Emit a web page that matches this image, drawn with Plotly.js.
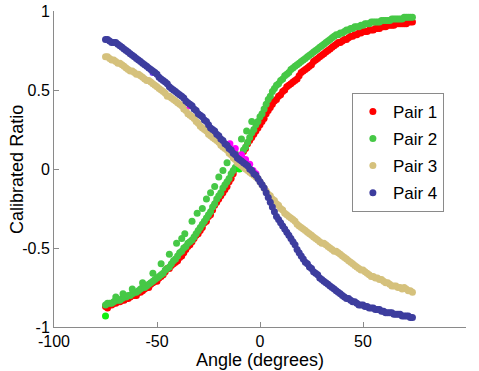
<!DOCTYPE html>
<html>
<head>
<meta charset="utf-8">
<script src="https://cdn.plot.ly/plotly-3.0.1.min.js"></script>
<style>html,body{margin:0;padding:0;background:#fff}#chart{width:479px;height:371px}</style>
</head>
<body>
<div id="chart"></div>
<script>
var angle = [-75,-73,-71,-69,-67,-65,-63,-61,-59,-57,-55,-53,-51,-49,-47,-45,-43,-41,-39,-37,-35,-33,-31,-29,-27,-25,-23,-21,-19,-17,-15,-13,-11,-9,-7,-5,-3,-1,1,3,5,7,9,11,13,15,17,19,21,23,25,27,29,31,33,35,37,39,41,43,45,47,49,51,53,55,57,59,61,63,65,67,69,71,73];
var angleB = [-74,-72,-70,-68,-66,-64,-62,-60,-58,-56,-54,-52,-50,-48,-46,-44,-42,-40,-38,-36,-34,-32,-30,-28,-26,-24,-22,-20,-18,-16,-14,-12,-10,-8,-6,-4,-2,0,2,4,6,8,10,12,14,16,18,20,22,24,26,28,30,32,34,36,38,40,42,44,46,48,50,52,54,56,58,60,62,64,66,68,70,72,74];

var pair1 = [-0.87,-0.86,-0.85,-0.84,-0.83,-0.82,-0.81,-0.80,-0.78,-0.77,-0.75,-0.73,-0.71,-0.69,-0.67,-0.63,-0.61,-0.59,-0.56,-0.53,-0.49,-0.46,-0.42,-0.39,-0.34,-0.30,-0.26,-0.21,-0.17,-0.13,-0.08,-0.03,0.02,0.08,0.13,0.18,0.22,0.26,0.30,0.35,0.39,0.43,0.46,0.49,0.52,0.54,0.56,0.59,0.62,0.64,0.66,0.69,0.71,0.73,0.75,0.77,0.79,0.80,0.82,0.83,0.84,0.85,0.86,0.87,0.88,0.88,0.89,0.90,0.90,0.91,0.91,0.92,0.92,0.92,0.93];
var pair1B = [-0.88,-0.86,-0.85,-0.84,-0.83,-0.82,-0.80,-0.80,-0.78,-0.76,-0.75,-0.72,-0.71,-0.68,-0.65,-0.63,-0.60,-0.58,-0.55,-0.51,-0.48,-0.44,-0.41,-0.37,-0.33,-0.29,-0.23,-0.19,-0.15,-0.11,-0.06,0.00,0.05,0.11,0.16,0.20,0.24,0.28,0.32,0.37,0.41,0.44,0.47,0.50,0.53,0.55,0.57,0.61,0.63,0.65,0.68,0.70,0.72,0.74,0.76,0.78,0.80,0.81,0.82,0.84,0.85,0.86,0.87,0.87,0.88,0.89,0.89,0.90,0.91,0.91,0.92,0.92,0.92,0.93,0.93];

var pair2 = [-0.86,-0.85,-0.84,-0.83,-0.82,-0.81,-0.80,-0.78,-0.77,-0.75,-0.74,-0.72,-0.70,-0.68,-0.66,-0.63,-0.60,-0.57,-0.53,-0.50,-0.47,-0.45,-0.41,-0.37,-0.33,-0.29,-0.24,-0.19,-0.15,-0.10,-0.06,-0.01,0.03,0.09,0.14,0.20,0.25,0.30,0.35,0.41,0.46,0.51,0.54,0.57,0.60,0.63,0.65,0.67,0.69,0.71,0.73,0.75,0.77,0.79,0.81,0.83,0.85,0.86,0.87,0.88,0.89,0.90,0.91,0.92,0.92,0.93,0.93,0.94,0.94,0.94,0.95,0.95,0.95,0.96,0.96];
var pair2B = [-0.85,-0.85,-0.83,-0.83,-0.81,-0.80,-0.79,-0.78,-0.76,-0.75,-0.73,-0.71,-0.69,-0.67,-0.64,-0.62,-0.58,-0.55,-0.52,-0.49,-0.46,-0.43,-0.39,-0.35,-0.31,-0.27,-0.22,-0.17,-0.12,-0.08,-0.03,0.01,0.06,0.12,0.17,0.23,0.28,0.33,0.38,0.44,0.49,0.53,0.56,0.59,0.61,0.64,0.66,0.68,0.70,0.72,0.74,0.76,0.78,0.80,0.82,0.84,0.85,0.86,0.88,0.89,0.90,0.90,0.91,0.92,0.93,0.93,0.93,0.94,0.94,0.95,0.95,0.95,0.96,0.96,0.96];

var pair2ExtraAngle = [-70,-66.5,-62,-57,-52,-48,-44,-40.5,-38,-36.5,-33,-30.5,-28,-26,-24,-22,-20,-18,-16,-12,-9,-6.5,-4];
var pair2ExtraRatio = [-0.81,-0.79,-0.76,-0.72,-0.66,-0.60,-0.54,-0.47,-0.44,-0.41,-0.33,-0.28,-0.25,-0.19,-0.15,-0.11,-0.05,-0.01,0.04,0.10,0.19,0.24,0.30];

var pair3 = [0.71,0.70,0.69,0.67,0.66,0.64,0.62,0.61,0.60,0.58,0.56,0.55,0.53,0.51,0.49,0.46,0.45,0.43,0.41,0.38,0.35,0.33,0.30,0.27,0.25,0.22,0.20,0.18,0.15,0.13,0.10,0.07,0.04,0.02,0.00,-0.02,-0.04,-0.06,-0.10,-0.14,-0.17,-0.20,-0.23,-0.26,-0.29,-0.31,-0.33,-0.36,-0.38,-0.40,-0.42,-0.44,-0.46,-0.47,-0.49,-0.51,-0.52,-0.54,-0.56,-0.58,-0.60,-0.62,-0.64,-0.65,-0.67,-0.68,-0.69,-0.70,-0.72,-0.73,-0.74,-0.75,-0.76,-0.76,-0.77];
var pair3B = [0.71,0.69,0.68,0.67,0.65,0.63,0.62,0.60,0.59,0.57,0.56,0.54,0.52,0.50,0.48,0.46,0.44,0.42,0.40,0.37,0.34,0.32,0.29,0.26,0.24,0.21,0.19,0.17,0.14,0.12,0.09,0.06,0.03,0.01,-0.01,-0.03,-0.05,-0.08,-0.12,-0.16,-0.19,-0.22,-0.25,-0.28,-0.30,-0.32,-0.35,-0.37,-0.39,-0.41,-0.43,-0.45,-0.47,-0.48,-0.50,-0.52,-0.53,-0.55,-0.57,-0.59,-0.61,-0.63,-0.64,-0.66,-0.68,-0.69,-0.70,-0.71,-0.72,-0.74,-0.74,-0.75,-0.75,-0.77,-0.78];

var pair4 = [0.82,0.81,0.80,0.79,0.77,0.75,0.73,0.71,0.69,0.67,0.65,0.63,0.61,0.58,0.56,0.54,0.51,0.49,0.47,0.45,0.42,0.40,0.37,0.34,0.31,0.28,0.25,0.22,0.19,0.16,0.13,0.10,0.07,0.05,0.03,0.00,-0.03,-0.06,-0.10,-0.15,-0.21,-0.27,-0.32,-0.36,-0.40,-0.44,-0.48,-0.53,-0.57,-0.60,-0.63,-0.66,-0.69,-0.71,-0.73,-0.75,-0.77,-0.79,-0.81,-0.82,-0.84,-0.85,-0.86,-0.87,-0.88,-0.88,-0.89,-0.90,-0.91,-0.91,-0.92,-0.92,-0.93,-0.93,-0.94];
var pair4B = [0.82,0.80,0.80,0.78,0.76,0.74,0.72,0.70,0.68,0.66,0.64,0.62,0.60,0.57,0.55,0.52,0.50,0.48,0.46,0.43,0.41,0.38,0.35,0.33,0.30,0.26,0.24,0.21,0.18,0.15,0.12,0.09,0.06,0.04,0.02,-0.01,-0.04,-0.08,-0.12,-0.18,-0.24,-0.30,-0.34,-0.38,-0.42,-0.46,-0.51,-0.55,-0.59,-0.62,-0.65,-0.67,-0.70,-0.72,-0.74,-0.76,-0.78,-0.80,-0.82,-0.83,-0.84,-0.86,-0.86,-0.87,-0.88,-0.89,-0.89,-0.90,-0.91,-0.91,-0.92,-0.92,-0.93,-0.93,-0.94];

var magentaAngle = [-34,-14.6,-12,-9,-7,-5,-3.4,-2];
var magentaRatio = [0.40,0.16,0.13,0.09,0.06,0.03,-0.01,-0.03];
var limeAngle = [-75,-10];
var limeRatio = [-0.93,0.0];
var violetAngle = [-52];
var violetRatio = [0.61];

var xTickVals = [-100, -50, 0, 50, 100];
var xTickText = ['-100','-50','0','50','100'];
var yTickVals = [-1, -0.5, 0, 0.5, 1];
var yTickText = ['-1','-0.5','0','0.5','1'];

var names = ['Pair 1','Pair 2','Pair 3','Pair 4'];
var colors = ['#ff0000','#46c846','#d5c17c','#3d3d9e'];
var ms = 7;
var FONT = 'Liberation Sans, Arial, sans-serif';

function sc(x, y, color, name, show, group) {
  return {x: x, y: y, type: 'scatter', mode: 'markers', name: name, showlegend: show,
    legendgroup: group, marker: {color: color, size: ms, line: {width: 0}}, hoverinfo: 'skip'};
}

var data = [
  sc(angle, pair1, colors[0], names[0], true, 'g1'),
  sc(angleB, pair1B, colors[0], names[0], false, 'g1'),
  sc(angle, pair2, colors[1], names[1], true, 'g2'),
  sc(angleB, pair2B, colors[1], names[1], false, 'g2'),
  sc(pair2ExtraAngle, pair2ExtraRatio, colors[1], names[1], false, 'g2'),
  sc(limeAngle, limeRatio, '#10f010', 'lime', false, 'g2'),
  sc(angle, pair3, colors[2], names[2], true, 'g3'),
  sc(angleB, pair3B, colors[2], names[2], false, 'g3'),
  sc(magentaAngle, magentaRatio, '#ff00ff', 'm', false, 'g3'),
  sc(violetAngle, violetRatio, '#6a3cf0', 'v', false, 'g3'),
  sc(angle, pair4, colors[3], names[3], true, 'g4'),
  sc(angleB, pair4B, colors[3], names[3], false, 'g4')
];

var axisCommon = {
  showline: true, linecolor: '#8a8a8a', linewidth: 1, mirror: false,
  ticks: 'inside', ticklen: 5, tickcolor: '#8a8a8a', tickwidth: 1,
  showgrid: false, zeroline: false,
  tickfont: {family: FONT, size: 16, color: '#000'}
};

var layout = {
  width: 479, height: 371,
  margin: {l: 54, r: 13, t: 11, b: 44},
  paper_bgcolor: '#fff', plot_bgcolor: '#fff',
  showlegend: true,
  xaxis: Object.assign({}, axisCommon, {
    range: [-100, 100], tickvals: xTickVals, ticktext: xTickText,
    title: {text: 'Angle (degrees)', standoff: 0, font: {family: FONT, size: 18, color: '#000'}}
  }),
  yaxis: Object.assign({}, axisCommon, {
    range: [-1, 1], tickvals: yTickVals, ticktext: yTickText
  }),
  annotations: [{
    text: 'Calibrated Ratio', xref: 'paper', yref: 'paper', x: -0.09, y: 0.5,
    xanchor: 'center', yanchor: 'middle', textangle: -90, showarrow: false,
    font: {family: FONT, size: 18, color: '#000'}
  }],
  legend: {
    x: 0.723, y: 0.741, xanchor: 'left', yanchor: 'top',
    bordercolor: '#8a8a8a', borderwidth: 1, bgcolor: '#fff',
    tracegroupgap: 2,
    font: {family: FONT, size: 17, color: '#000'}
  }
};

Plotly.newPlot('chart', data, layout, {staticPlot: true, displayModeBar: false});
</script>
</body>
</html>
